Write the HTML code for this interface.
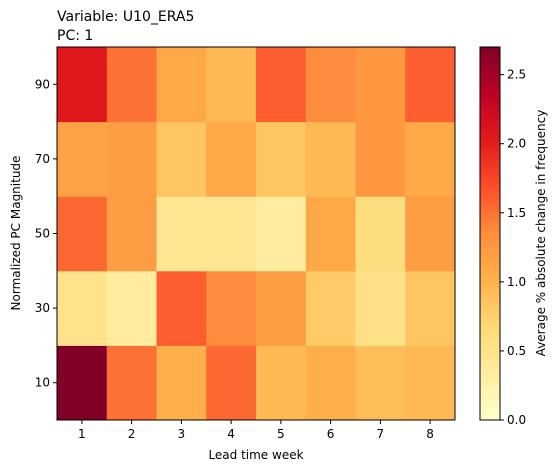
<!DOCTYPE html>
<html><head><meta charset="utf-8"><style>
body{margin:0;background:#fff;font-family:"Liberation Sans","DejaVu Sans",sans-serif;}
text{font-family:"DejaVu Sans","Liberation Sans",sans-serif;fill:#000;}
</style></head><body>
<svg id="chart" width="558" height="471" xmlns="http://www.w3.org/2000/svg">
<defs><linearGradient id="cbg" x1="0" y1="1" x2="0" y2="0">
<stop offset="0" stop-color="#ffffcc"/><stop offset="0.125" stop-color="#ffeda0"/><stop offset="0.25" stop-color="#fed976"/><stop offset="0.375" stop-color="#feb24c"/><stop offset="0.5" stop-color="#fd8d3c"/><stop offset="0.625" stop-color="#fc4e2a"/><stop offset="0.75" stop-color="#e31a1c"/><stop offset="0.875" stop-color="#bd0026"/><stop offset="1" stop-color="#800026"/>
</linearGradient></defs>
<text x="57" y="21" font-size="14">Variable: U10_ERA5</text>
<text x="57" y="40" font-size="14">PC: 1</text>
<g id="cells"></g>
<rect x="57" y="47" width="398" height="373" fill="none" stroke="#000" stroke-width="1"/>
<g id="axes"></g>
<text x="256" y="459" font-size="12" text-anchor="middle">Lead time week</text>
<text transform="translate(20,233) rotate(-90)" font-size="12" text-anchor="middle">Normalized PC Magnitude</text>
<rect x="480" y="47" width="20" height="373" fill="url(#cbg)" stroke="#000" stroke-width="1"/>
<text transform="translate(545,233) rotate(-90)" font-size="12" text-anchor="middle">Average % absolute change in frequency</text>
</svg>
<script>
const weeks = [1,2,3,4,5,6,7,8];
const magnitudes = [10,30,50,70,90];
// rows bottom (10) to top (90)
const row10 = [2.7,1.5,1.05,1.55,0.95,1.05,0.9,0.95];
const row30 = [0.5,0.35,1.6,1.35,1.2,0.8,0.55,0.85];
const row50 = [1.55,1.2,0.45,0.45,0.35,1.1,0.6,1.2];
const row70 = [1.15,1.2,0.85,1.1,0.85,0.95,1.25,1.1];
const row90 = [2.05,1.5,1.1,0.95,1.6,1.35,1.25,1.6];
const cbTicks = [0,0.5,1,1.5,2,2.5];
const vmin = 0, vmax = 2.7;
const rows = [row10,row30,row50,row70,row90];
const X0=57,X1=455,Y0=420,Y1=47;
const cw=(X1-X0)/weeks.length, rh=(Y0-Y1)/magnitudes.length;
const xs=i=>X0+i*cw, ys=j=>Y0-(j+1)*rh, cby=v=>Y0-(v-vmin)/(vmax-vmin)*(Y0-Y1);
const stops=["#ffffcc","#ffeda0","#fed976","#feb24c","#fd8d3c","#fc4e2a","#e31a1c","#bd0026","#800026"].map(h=>[1,3,5].map(k=>parseInt(h.substr(k,2),16)));
function cmap(v){let t=Math.max(0,Math.min(1,(v-vmin)/(vmax-vmin)))*(stops.length-1);let i=Math.min(Math.floor(t),stops.length-2),f=t-i;
const c=stops[i].map((a,k)=>Math.round(a+(stops[i+1][k]-a)*f));return `rgb(${c.join(',')})`;}
const NS="http://www.w3.org/2000/svg";
function mk(tag,attrs,parent){const e=document.createElementNS(NS,tag);for(const k in attrs)e.setAttribute(k,attrs[k]);parent.appendChild(e);return e;}
const cells=document.getElementById('cells'), axes=document.getElementById('axes');
rows.forEach((r,j)=>r.forEach((v,i)=>{
 const c=mk('rect',{x:xs(i),y:ys(j),width:cw+0.5,height:rh+0.5,fill:cmap(v)},cells);
 
 
}));
weeks.forEach((w,i)=>{const x=xs(i)+cw/2;
 const t=mk('line',{x1:x,x2:x,y1:Y0,y2:Y0+4,stroke:'#000'},axes);
 
 
 const l=mk('text',{x:x,y:Y0+18,'font-size':12,'text-anchor':'middle'},axes);l.textContent=w;
 
 
});
magnitudes.forEach((m,j)=>{const y=ys(j)+rh/2;
 const t=mk('line',{x1:X0-4,x2:X0,y1:y,y2:y,stroke:'#000'},axes);
 
 
 const l=mk('text',{x:X0-7,y:y+4,'font-size':12,'text-anchor':'end'},axes);l.textContent=m;
 
 
});
cbTicks.forEach(v=>{const y=cby(v);
 const t=mk('line',{x1:500,x2:504,y1:y,y2:y,stroke:'#000'},axes);
 
 
 const l=mk('text',{x:507,y:y+4,'font-size':12},axes);l.textContent=v.toFixed(1);
 
 
});
</script>
</body></html>
